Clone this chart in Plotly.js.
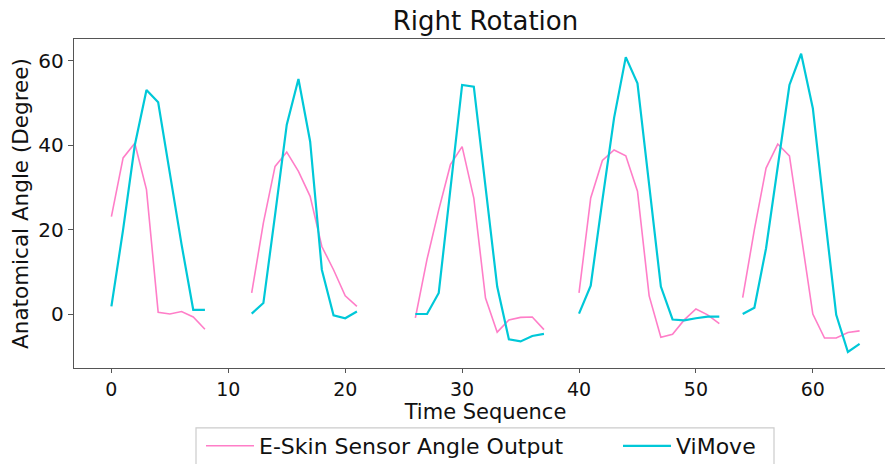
<!DOCTYPE html>
<html>
<head>
<meta charset="utf-8">
<script src="https://cdn.plot.ly/plotly-3.0.1.min.js"></script>
<style>
  html, body { margin: 0; padding: 0; overflow: hidden; background: #fff; }
  #chart { width: 920px; height: 464px; }
</style>
</head>
<body>
<div id="chart"></div>
<script>
// Time sequence index 0..64 (gaps between trials are null)
const timeSeq = Array.from({length: 65}, (_, i) => i);

const eskinAngle = [
  23.1, 37.0, 40.5, 29.5, 0.4, 0.0, 0.6, -0.7, -3.6,
  null, null, null,
  5.0, 21.6, 35.0, 38.4, 33.8, 27.9, 16.0, 10.5, 4.3, 1.8,
  null, null, null, null,
  -0.9, 13.0, 24.7, 35.4, 39.7, 27.5, 3.8, -4.3, -1.4, -0.8, -0.7, -3.7,
  null, null,
  5.0, 27.5, 36.4, 38.9, 37.5, 29.1, 4.3, -5.5, -4.8, -1.4, 1.2, -0.2, -2.3,
  null,
  3.9, 20.0, 34.6, 40.3, 37.5, 19.0, 0.0, -5.7, -5.7, -4.4, -4.0
];

const viMove = [
  1.8, 20.0, 40.0, 53.1, 50.2, 33.5, 16.5, 1.0, 1.0,
  null, null, null,
  0.1, 2.6, 23.5, 44.9, 55.7, 40.9, 10.5, -0.3, -1.0, 0.6,
  null, null, null, null,
  0.0, 0.0, 5.0, 30.2, 54.3, 53.9, 30.2, 6.5, -6.0, -6.5, -5.2, -4.7,
  null, null,
  0.1, 6.7, 27.0, 46.5, 60.9, 54.7, 30.6, 6.5, -1.3, -1.5, -1.0, -0.6, -0.6,
  null,
  0.0, 1.5, 15.6, 35.0, 54.3, 61.7, 48.8, 24.0, -0.2, -9.0, -7.1
];

const seriesNames = ['E-Skin Sensor Angle Output', 'ViMove'];
const xTickVals = [0, 10, 20, 30, 40, 50, 60];
const yTickVals = [0, 20, 40, 60];

const FONT = 'DejaVu Sans, Liberation Sans, sans-serif';

const traces = [
  {
    x: timeSeq, y: eskinAngle, name: seriesNames[0],
    type: 'scatter', mode: 'lines', connectgaps: false,
    line: {color: '#ff7ec8', width: 1.6},
    legend: 'legend'
  },
  {
    x: timeSeq, y: viMove, name: seriesNames[1],
    type: 'scatter', mode: 'lines', connectgaps: false,
    line: {color: '#00c8d8', width: 2.2},
    legend: 'legend2'
  }
];

const W = 920;
const legendFont = {family: FONT, size: 22, color: '#111'};

const layout = {
  width: W, height: 464,
  margin: {l: 74, r: 23, t: 39, b: 96, pad: 0},
  paper_bgcolor: '#fff', plot_bgcolor: '#fff',
  font: {family: FONT, color: '#111', size: 19},
  title: {
    text: 'Right Rotation',
    font: {family: FONT, size: 26, color: '#111'},
    x: 0.5, xref: 'paper', xanchor: 'center',
    y: 0.955, yref: 'container', yanchor: 'middle'
  },
  xaxis: {
    range: [-3.2, 67.2],
    tickvals: xTickVals,
    ticks: 'outside', ticklen: 4, tickwidth: 1, tickcolor: '#555',
    showline: true, linecolor: '#555', linewidth: 1.3, mirror: true,
    showgrid: false, zeroline: false, automargin: false,
    tickfont: {family: FONT, size: 19, color: '#111'},
    title: {text: 'Time Sequence', font: {family: FONT, size: 21, color: '#111'}, standoff: 4}
  },
  yaxis: {
    range: [-12.8, 65.2],
    tickvals: yTickVals,
    ticks: 'outside', ticklen: 5, tickwidth: 1, tickcolor: '#555',
    showline: true, linecolor: '#555', linewidth: 1.3, mirror: true,
    showgrid: false, zeroline: false, automargin: false,
    tickfont: {family: FONT, size: 20, color: '#111'},
    title: {text: 'Anatomical Angle (Degree)', font: {family: FONT, size: 21.5, color: '#111'}, standoff: 3}
  },
  showlegend: true,
  legend: {
    orientation: 'h',
    x: 201 / W, xanchor: 'left', xref: 'container',
    y: 1 - 425 / 464, yanchor: 'top', yref: 'container',
    borderwidth: 0, bgcolor: 'rgba(0,0,0,0)',
    font: legendFont, itemwidth: 48
  },
  legend2: {
    orientation: 'h',
    x: 618 / W, xanchor: 'left', xref: 'container',
    y: 1 - 425 / 464, yanchor: 'top', yref: 'container',
    borderwidth: 0, bgcolor: 'rgba(0,0,0,0)',
    font: legendFont, itemwidth: 48
  },
  shapes: [{
    type: 'rect', xref: 'paper', yref: 'paper', layer: 'below',
    x0: (196 - 74) / 823, x1: (774 - 74) / 823,
    y0: (368 - 428) / 329.3, y1: (368 - 475) / 329.3,
    line: {color: '#cccccc', width: 1.2}, fillcolor: 'rgba(255,255,255,0)'
  }]
};

Plotly.newPlot('chart', traces, layout, {displayModeBar: false, staticPlot: true});
</script>
</body>
</html>
